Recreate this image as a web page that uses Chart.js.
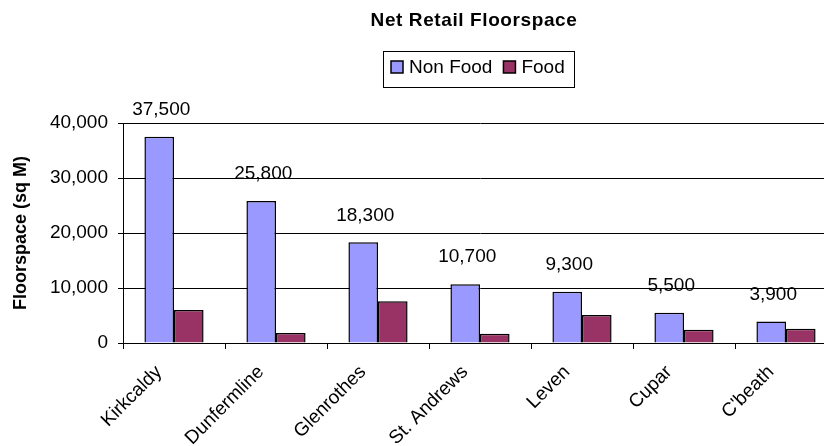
<!DOCTYPE html>
<html>
<head>
<meta charset="utf-8">
<script src="https://cdn.jsdelivr.net/npm/chart.js@4/dist/chart.umd.min.js"></script>
<style>
  html, body { margin:0; padding:0; background:#fff; overflow:hidden; }
  #wrap { width:840px; height:446px; }
</style>
</head>
<body>
<div id="wrap"><canvas id="floorChart" width="840" height="446"></canvas></div>
<script>
const towns = ['Kirkcaldy', 'Dunfermline', 'Glenrothes', 'St. Andrews', 'Leven', 'Cupar', "C'beath"];
const nonFood = [37500, 25800, 18300, 10700, 9300, 5500, 3900];
const food = [6000, 1800, 7600, 1700, 5100, 2400, 2600];
const yTicks = [0, 10000, 20000, 30000, 40000];

const FONT = '"Liberation Sans", Arial, sans-serif';
const fmt = v => Number(v).toLocaleString('en-GB');

// title + boxed legend, drawn where the original sits (off-centre)
const headerPlugin = {
  id: 'header',
  afterDraw(chart) {
    const ctx = chart.ctx;
    ctx.save();
    ctx.fillStyle = '#000';
    ctx.font = 'bold 19px ' + FONT;
    ctx.letterSpacing = '0.6px';
    ctx.textAlign = 'center';
    ctx.textBaseline = 'middle';
    ctx.fillText('Net Retail Floorspace', 474, 21);
    ctx.letterSpacing = '0px';

    ctx.strokeStyle = '#000';
    ctx.lineWidth = 1;
    ctx.strokeRect(383.5, 51.5, 191, 36);

    ctx.font = '19px ' + FONT;
    ctx.textAlign = 'left';
    let x = 391;
    chart.data.datasets.forEach(ds => {
      ctx.fillStyle = ds.backgroundColor;
      ctx.fillRect(x, 61, 12, 12);
      ctx.lineWidth = 1.5;
      ctx.strokeRect(x, 61, 12, 12);
      ctx.fillStyle = '#000';
      ctx.fillText(ds.label, x + 18, 68);
      x += 18 + ctx.measureText(ds.label).width + 11;
    });
    ctx.restore();
  }
};

// value labels above the Non Food bars
const valueLabels = {
  id: 'valueLabels',
  afterDatasetsDraw(chart) {
    const ctx = chart.ctx;
    const meta = chart.getDatasetMeta(0);
    ctx.save();
    ctx.fillStyle = '#000';
    ctx.font = '19px ' + FONT;
    ctx.textAlign = 'center';
    ctx.textBaseline = 'middle';
    meta.data.forEach((bar, i) => {
      ctx.fillText(fmt(nonFood[i]), bar.x + 2, bar.y - 27);
    });
    ctx.restore();
  }
};

new Chart(document.getElementById('floorChart'), {
  type: 'bar',
  data: {
    labels: towns,
    datasets: [
      { label: 'Non Food', data: nonFood, backgroundColor: '#9999ff', borderColor: '#000', borderWidth: 1.5 },
      { label: 'Food', data: food, backgroundColor: '#993366', borderColor: '#000', borderWidth: 1.5 }
    ]
  },
  options: {
    responsive: false,
    animation: false,
    layout: { padding: { top: 123, right: 3, left: 0, bottom: 0 } },
    datasets: { bar: { categoryPercentage: 0.58, barPercentage: 1.0 } },
    plugins: { legend: { display: false }, title: { display: false }, tooltip: { enabled: false } },
    scales: {
      x: {
        offset: true,
        grid: { display: true, drawOnChartArea: false, offset: true, color: '#000', tickLength: 6 },
        border: { color: '#000', width: 1 },
        ticks: { color: '#000', font: { family: FONT, size: 19 }, minRotation: 45, maxRotation: 45, padding: 12, labelOffset: -15 },
        afterFit(s) { s.height = 103; }
      },
      y: {
        min: 0, max: 40000,
        afterBuildTicks(s) { s.ticks = yTicks.map(v => ({ value: v })); },
        grid: { color: '#000', lineWidth: 1, tickLength: 5 },
        border: { color: '#000', width: 1 },
        ticks: { color: '#000', font: { family: FONT, size: 19 }, padding: 10, callback: v => fmt(v) },
        title: { display: true, text: 'Floorspace (sq M)', color: '#000', font: { family: FONT, size: 18, weight: 'bold' }, padding: { top: 10, bottom: 0 } },
        afterFit(s) { s.width = 123; }
      }
    }
  },
  plugins: [headerPlugin, valueLabels]
});
</script>
</body>
</html>
